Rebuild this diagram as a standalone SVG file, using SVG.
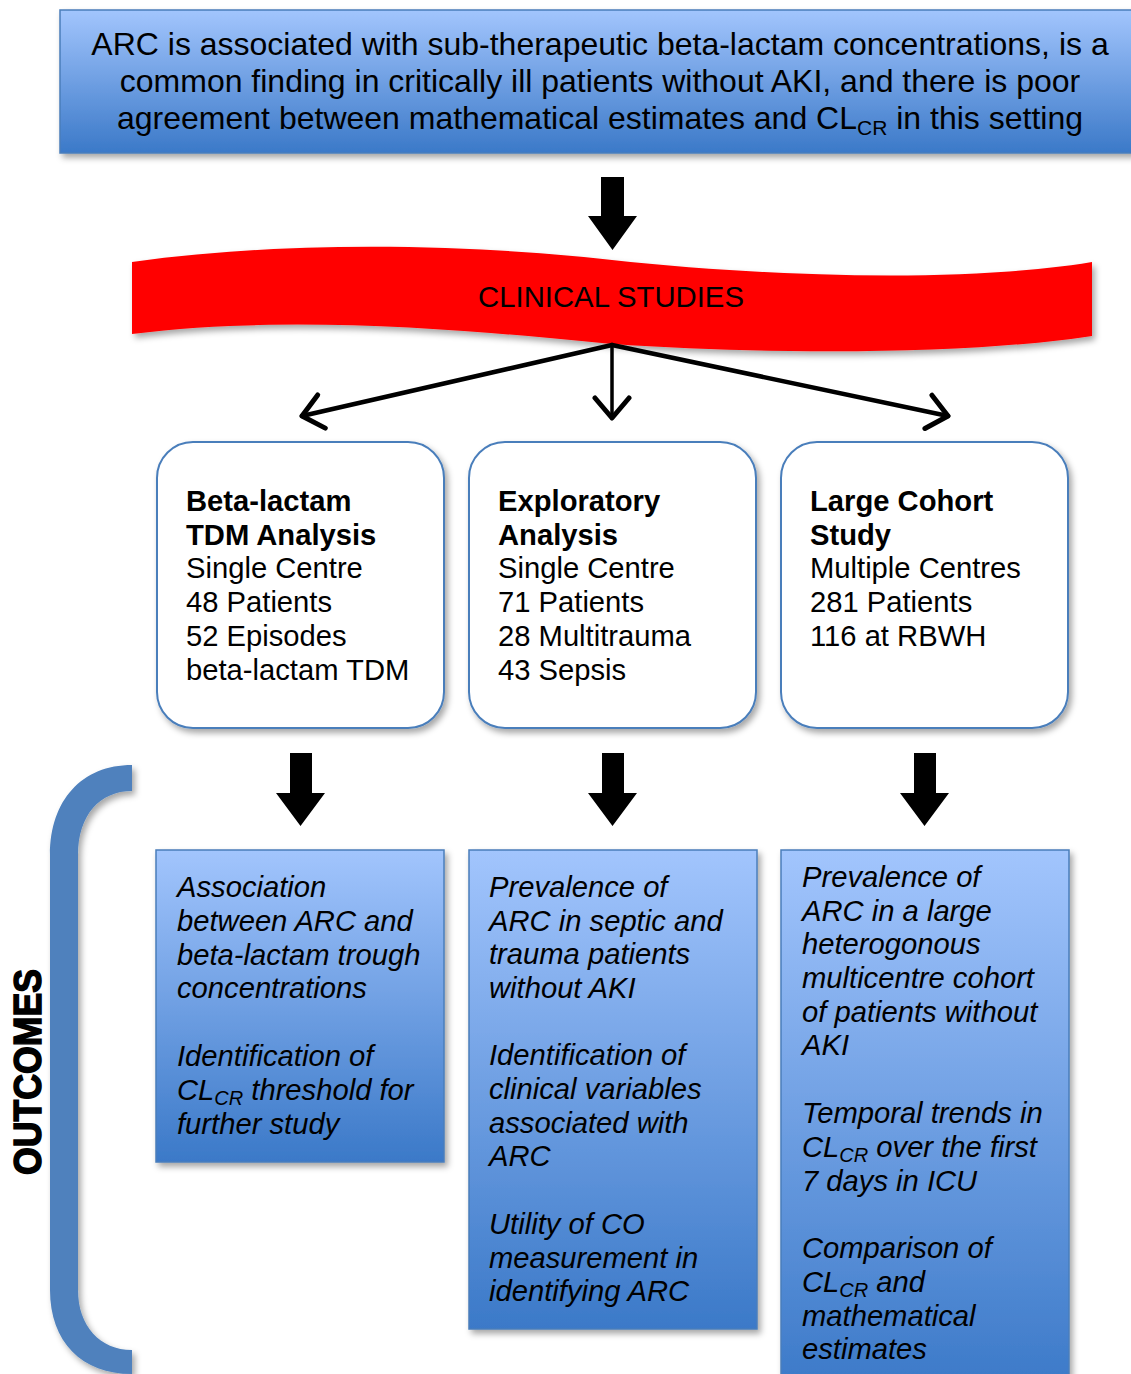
<svg xmlns="http://www.w3.org/2000/svg" width="1131" height="1374" viewBox="0 0 1131 1374">
<defs>
<linearGradient id="blueGrad" x1="0" y1="0" x2="0" y2="1">
<stop offset="0" stop-color="#a2c5fd"/>
<stop offset="1" stop-color="#3b79c8"/>
</linearGradient>
<filter id="shadow" x="-10%" y="-10%" width="125%" height="130%">
<feDropShadow dx="3" dy="4" stdDeviation="3" flood-color="#000" flood-opacity="0.35"/>
</filter>
<marker id="chev" viewBox="0 0 26 40" refX="23" refY="20" markerWidth="26" markerHeight="40" markerUnits="userSpaceOnUse" orient="auto">
<path d="M3,3 L23,20 L3,37" fill="none" stroke="#000" stroke-width="5" stroke-linecap="round" stroke-linejoin="round"/>
</marker>
</defs>
<style>
.t{font-family:"Liberation Sans",Arial,sans-serif;fill:#000}
.top{font-size:32px}
.card{font-size:29.2px}
.b{font-weight:bold}
.out{font-size:29.2px;font-style:italic}
.blue{fill:url(#blueGrad);stroke:#4a7ebb;stroke-width:1.5}
.rbox{fill:#fff;stroke:#4a7ebb;stroke-width:2}
.big{fill:#000}
.thin{stroke:#000;fill:none;stroke-linecap:round}
</style>
<rect width="1131" height="1374" fill="#fff"/>

<g id="finding">
<rect x="60" y="10" width="1085" height="143" class="blue" filter="url(#shadow)"/>
<text class="t top" text-anchor="middle"><tspan x="600" y="55">ARC is associated with sub-therapeutic beta-lactam concentrations, is a</tspan><tspan x="600" y="92">common finding in critically ill patients without AKI, and there is poor</tspan><tspan x="600" y="129">agreement between mathematical estimates and CL<tspan dy="6" font-size="21">CR</tspan><tspan dy="-6"> in this setting</tspan></tspan></text>
</g>

<g id="clinical-studies">
<path d="M132,262 C290,240 470,244 612,260 C760,276 960,284 1092,262 L1092,336 C960,356 760,354 612,344 C470,330 290,314 132,334 Z" fill="#ff0000" filter="url(#shadow)"/>
<text class="t" x="611" y="307" text-anchor="middle" font-size="29.3">CLINICAL STUDIES</text>
</g>

<g id="study-tdm">
<rect x="157" y="442" width="287" height="286" rx="36" class="rbox" filter="url(#shadow)"/>
<text class="t card"><tspan x="186" y="511" class="b">Beta-lactam</tspan><tspan x="186" y="545" class="b">TDM Analysis</tspan><tspan x="186" y="578">Single Centre</tspan><tspan x="186" y="612">48 Patients</tspan><tspan x="186" y="646">52 Episodes</tspan><tspan x="186" y="680">beta-lactam TDM</tspan></text>
</g>

<g id="study-exploratory">
<rect x="469" y="442" width="287" height="286" rx="36" class="rbox" filter="url(#shadow)"/>
<text class="t card"><tspan x="498" y="511" class="b">Exploratory</tspan><tspan x="498" y="545" class="b">Analysis</tspan><tspan x="498" y="578">Single Centre</tspan><tspan x="498" y="612">71 Patients</tspan><tspan x="498" y="646">28 Multitrauma</tspan><tspan x="498" y="680">43 Sepsis</tspan></text>
</g>

<g id="study-cohort">
<rect x="781" y="442" width="287" height="286" rx="36" class="rbox" filter="url(#shadow)"/>
<text class="t card"><tspan x="810" y="511" class="b">Large Cohort</tspan><tspan x="810" y="545" class="b">Study</tspan><tspan x="810" y="578">Multiple Centres</tspan><tspan x="810" y="612">281 Patients</tspan><tspan x="810" y="646">116 at RBWH</tspan></text>
</g>

<g id="outcome-tdm">
<rect x="156" y="850" width="288" height="312" class="blue" filter="url(#shadow)"/>
<text class="t out"><tspan x="177" y="897">Association</tspan><tspan x="177" y="931">between ARC and</tspan><tspan x="177" y="965">beta-lactam trough</tspan><tspan x="177" y="998">concentrations</tspan><tspan x="177" y="1066">Identification of</tspan><tspan x="177" y="1100">CL<tspan dy="5" font-size="20">CR</tspan><tspan dy="-5"> threshold for</tspan></tspan><tspan x="177" y="1134">further study</tspan></text>
</g>

<g id="outcome-exploratory">
<rect x="469" y="850" width="288" height="479" class="blue" filter="url(#shadow)"/>
<text class="t out"><tspan x="489" y="897">Prevalence of</tspan><tspan x="489" y="931">ARC in septic and</tspan><tspan x="489" y="964">trauma patients</tspan><tspan x="489" y="998">without AKI</tspan><tspan x="489" y="1065">Identification of</tspan><tspan x="489" y="1099">clinical variables</tspan><tspan x="489" y="1133">associated with</tspan><tspan x="489" y="1166">ARC</tspan><tspan x="489" y="1234">Utility of CO</tspan><tspan x="489" y="1268">measurement in</tspan><tspan x="489" y="1301">identifying ARC</tspan></text>
</g>

<g id="outcome-cohort">
<rect x="781" y="850" width="288" height="540" class="blue" filter="url(#shadow)"/>
<text class="t out"><tspan x="802" y="887">Prevalence of</tspan><tspan x="802" y="921">ARC in a large</tspan><tspan x="802" y="954">heterogonous</tspan><tspan x="802" y="988">multicentre cohort</tspan><tspan x="802" y="1022">of patients without</tspan><tspan x="802" y="1055">AKI</tspan><tspan x="802" y="1123">Temporal trends in</tspan><tspan x="802" y="1157">CL<tspan dy="5" font-size="20">CR</tspan><tspan dy="-5"> over the first</tspan></tspan><tspan x="802" y="1191">7 days in ICU</tspan><tspan x="802" y="1258">Comparison of</tspan><tspan x="802" y="1292">CL<tspan dy="5" font-size="20">CR</tspan><tspan dy="-5"> and</tspan></tspan><tspan x="802" y="1326">mathematical</tspan><tspan x="802" y="1359">estimates</tspan></text>
</g>

<g id="outcomes-label">
<path d="M132,765 C82,765 50,800 50,855 L50,1290 C50,1342 82,1374 132,1374 L132,1350 C100,1350 78,1326 78,1290 L78,855 C78,815 100,791 132,791 Z" fill="#4f81bd" filter="url(#shadow)"/>
<text class="t" transform="translate(41,1072) rotate(-90)" text-anchor="middle" font-size="38" font-weight="900" stroke="#000" stroke-width="1.5" textLength="206" lengthAdjust="spacingAndGlyphs">OUTCOMES</text>
</g>

<g id="connectors">
<path class="big" d="M601,177 H624 V216 H637 L612.5,250 L588,216 H601 Z"/>
<path class="thin" d="M612,345 L302,416" stroke-width="4.5" marker-end="url(#chev)"/>
<path class="thin" d="M612,345 L612,418" stroke-width="3.5" marker-end="url(#chev)"/>
<path class="thin" d="M612,345 L948,416" stroke-width="4.5" marker-end="url(#chev)"/>
<path class="big" d="M290,753 H312 V793 H325 L300.5,826 L276,793 H290 Z"/>
<path class="big" d="M602,753 H624 V793 H637 L612.5,826 L588,793 H602 Z"/>
<path class="big" d="M914,753 H936 V793 H949 L924.5,826 L900,793 H914 Z"/>
</g>
</svg>
